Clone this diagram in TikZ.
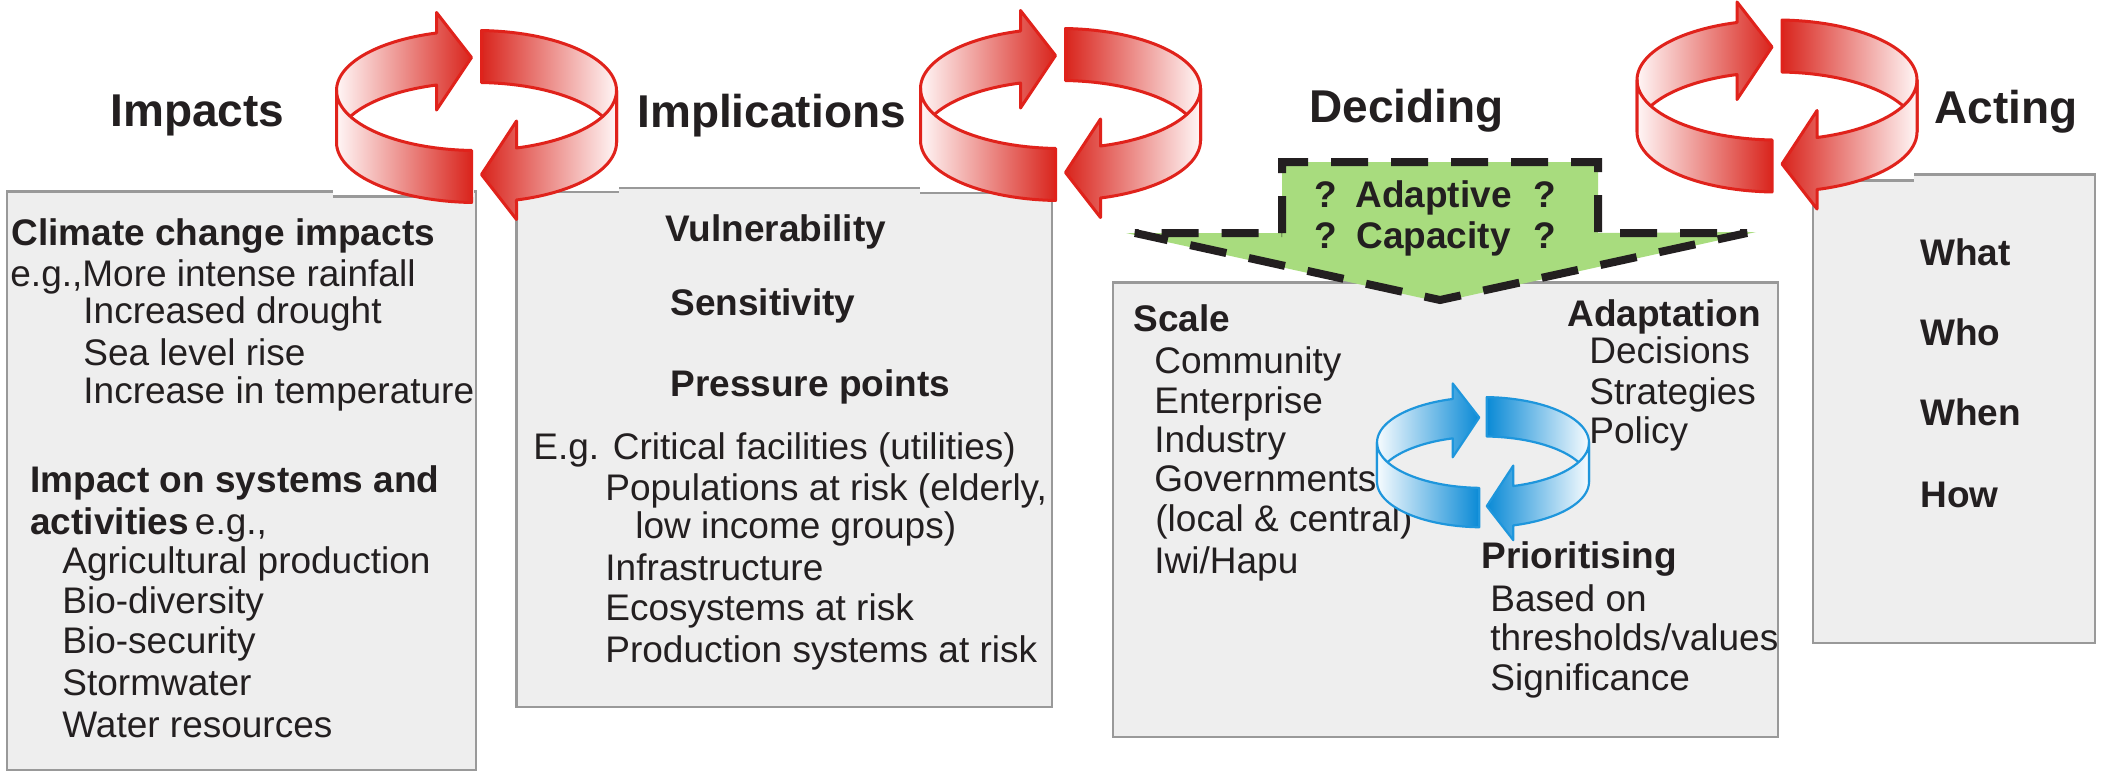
\documentclass[tikz,border=0pt]{standalone}
\usepackage{fontspec}
\setmainfont{Liberation Sans}
\definecolor{txt}{HTML}{231F20}
\definecolor{boxfill}{HTML}{EEEEEE}
\definecolor{boxline}{HTML}{999999}
\definecolor{rdark}{HTML}{D9251D}
\definecolor{rlight}{HTML}{FFF6F6}
\definecolor{rline}{HTML}{E0221B}
\definecolor{bdark}{HTML}{0A8AD6}
\definecolor{blight}{HTML}{F6FBFE}
\definecolor{bline}{HTML}{1E96DC}
\definecolor{gfill}{HTML}{A8DC7E}
\tikzset{
  box/.style={fill=boxfill, draw=boxline, line width=1.3pt},
  ttl/.style={anchor=base west, inner sep=0pt, text=txt, font=\bfseries\fontsize{23}{26}\selectfont},
  bt/.style={anchor=base west, inner sep=0pt, text=txt, font=\bfseries\fontsize{18.5}{20}\selectfont},
  rt/.style={anchor=base west, inner sep=0pt, text=txt, font=\fontsize{18.5}{20}\selectfont},
  dashline/.style={draw=txt, line width=4pt, dash pattern=on 18.5pt off 11.5pt, miter limit=2},
  seam/.style={draw=boxline, line width=1.3pt}
}
% cx, cy, scale, dark, light, line colour, line width
\newcommand{\cyclering}[7]{%
\begin{scope}[shift={(#1,#2)}, scale=#3]
  % back left piece with head
  \shadedraw[left color=#5, right color=#4, draw=#6, line width=#7, line join=round]
    plot[domain=180:253.4,samples=30,variable=\t]({140*cos(\t)},{60*sin(\t)})
    -- (-40,-78) -- (-5,-33) -- (-40,19.5)
    -- plot[domain=253.4:180,samples=30,variable=\t]({140*cos(\t)},{52+60*sin(\t)}) -- cycle;
  % back right piece
  \shadedraw[left color=#4, right color=#5, draw=#6, line width=#7, line join=round]
    plot[domain=272.05:360,samples=30,variable=\t]({140*cos(\t)},{60*sin(\t)})
    -- plot[domain=360:272.05,samples=30,variable=\t]({140*cos(\t)},{52+60*sin(\t)}) -- cycle;
  % front left piece
  \shadedraw[left color=#5, right color=#4, draw=#6, line width=#7, line join=round]
    plot[domain=92.05:180,samples=30,variable=\t]({140*cos(\t)},{60*sin(\t)})
    -- plot[domain=180:92.05,samples=30,variable=\t]({140*cos(\t)},{52+60*sin(\t)}) -- cycle;
  % front right piece with head
  \shadedraw[left color=#4, right color=#5, draw=#6, line width=#7, line join=round]
    plot[domain=0:73.4,samples=30,variable=\t]({140*cos(\t)},{60*sin(\t)})
    -- (40,30.5) -- (5,84) -- (40,129)
    -- plot[domain=73.4:0,samples=30,variable=\t]({140*cos(\t)},{52+60*sin(\t)}) -- cycle;
\end{scope}}
\begin{document}
\begin{tikzpicture}[x=0.5pt, y=-0.5pt]
\useasboundingbox (0,0) rectangle (2104,772);
\fill[white] (0,0) rectangle (2104,772);

% boxes
\draw[box] (7,191.7) rectangle (476,770);
\draw[box] (516.7,188) rectangle (1052,707);
\draw[box] (1113,282.5) rectangle (1778,737);
\draw[box] (1813,174.3) rectangle (2095,643);

% white backgrounds of the cycle pictures
\fill[white] (333,182) rectangle (474,196.7);
\draw[seam] (333,196.7) -- (472,196.7);
\fill[white] (515,180) rectangle (619,192);
\draw[seam] (518,192) -- (619,192);
\fill[white] (920,180) rectangle (1054,193);
\draw[seam] (920,193) -- (1052,193);
\fill[white] (1811,168) rectangle (1914,180.7);
\draw[seam] (1813,180.7) -- (1914,180.7);

% green arrow
\fill[gfill] (1282,162) -- (1598,162) -- (1598,233) -- (1756,232) -- (1440,302) -- (1126,233) -- (1282,233) -- cycle;
\draw[dashline] (1282,233) -- (1282,162) -- (1598,162) -- (1598,233) -- (1747,233) -- (1440,300) -- (1135,233) -- cycle;

% titles
\node[ttl] (tImp) at (110,126.7) {Impacts};
\node[ttl] (tImpl) at (637,127) {Implications};
\node[ttl] (tDec) at (1309,122) {Deciding};
\node[ttl] (tAct) at (1934,123) {Acting};

% Impacts box
\node[bt] (c1) at (11,245) {Climate change impacts};
\node[rt] (c2) at (10,286) {e.g.,More intense rainfall};
\node[rt] (c3) at (83,323) {Increased drought};
\node[rt] (c4) at (83,365) {Sea level rise};
\node[rt] (c5) at (83,403) {Increase in temperature};
\node[bt] (s1) at (30,492) {Impact on systems and};
\node[rt] (s2) at (30,534) {\bfseries activities\,\mdseries e.g.,};
\node[rt] (s3) at (62,573) {Agricultural production};
\node[rt] (s4) at (62,613) {Bio-diversity};
\node[rt] (s5) at (62,653) {Bio-security};
\node[rt] (s6) at (62,695) {Stormwater};
\node[rt] (s7) at (62,737) {Water resources};

% Implications box
\node[bt] (v1) at (665,241.7) {Vulnerability};
\node[bt] (v2) at (670,315) {Sensitivity};
\node[bt] (v3) at (670,396) {Pressure points};
\node[rt] (p1) at (533,459.3) {E.g. Critical facilities (utilities)};
\node[rt] (p2) at (605,500) {Populations at risk (elderly,};
\node[rt] (p3) at (635,538.3) {low income groups)};
\node[rt] (p4) at (605,580.7) {Infrastructure};
\node[rt] (p5) at (605,620) {Ecosystems at risk};
\node[rt] (p6) at (605,662.7) {Production systems at risk};

% green arrow text
\node[bt] (q1) at (1314,207) {?};
\node[bt] (a1) at (1355,207) {Adaptive};
\node[bt] (q2) at (1533,207) {?};
\node[bt] (q3) at (1314,248) {?};
\node[bt] (a2) at (1356,248) {Capacity};
\node[bt] (q4) at (1533,248) {?};

% Deciding box
\node[bt] (d1) at (1133,331.7) {Scale};
\node[rt] (d2) at (1154,373) {Community};
\node[rt] (d3) at (1154,413) {Enterprise};
\node[rt] (d4) at (1154,452.7) {Industry};
\node[rt] (d5) at (1154,491.7) {Governments};
\node[rt] (d6) at (1155,531.7) {(local \& central)};
\node[rt] (d7) at (1154,573) {Iwi/Hapu};
\node[bt] (d8) at (1567,326.7) {Adaptation};
\node[rt] (d9) at (1589,363) {Decisions};
\node[rt] (d10) at (1589,404) {Strategies};
\node[rt] (d11) at (1589,443) {Policy};
\node[bt] (d12) at (1481,568) {Prioritising};
\node[rt] (d13) at (1490,611.7) {Based on};
\node[rt] (d14) at (1490,650) {thresholds/values};
\node[rt] (d15) at (1490,690) {Significance};

% Acting box
\node[bt] (w1) at (1920,265) {What};
\node[bt] (w2) at (1920,345) {Who};
\node[bt] (w3) at (1920,425) {When};
\node[bt] (w4) at (1920,507) {How};

% cycle arrows
\cyclering{476.5}{90.5}{1}{rdark}{rlight}{rline}{1.5pt}
\cyclering{1060.5}{88.5}{1}{rdark}{rlight}{rline}{1.5pt}
\cyclering{1777}{80}{1}{rdark}{rlight}{rline}{1.5pt}
\cyclering{1483}{442.5}{0.757}{bdark}{blight}{bline}{1.1pt}
\end{tikzpicture}
\end{document}
